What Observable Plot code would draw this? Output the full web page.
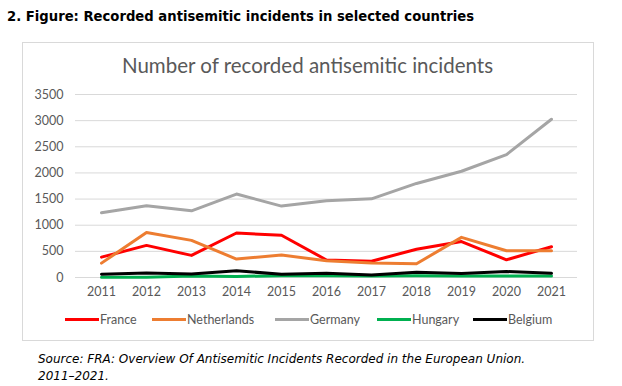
<!DOCTYPE html>
<html>
<head>
<meta charset="utf-8">
<script src="https://cdn.jsdelivr.net/npm/d3@7"></script>
<script src="https://cdn.jsdelivr.net/npm/@observablehq/plot@0.6"></script>
<style>
  body { margin: 0; background: #fff; width: 622px; height: 386px; position: relative; overflow: hidden; }
  #header { position: absolute; left: 7px; top: 9px; font-family: "DejaVu Sans", Verdana, sans-serif; font-weight: bold; font-size: 13.2px; color: #000; white-space: nowrap; }
  #box { position: absolute; left: 22px; top: 42px; width: 570px; height: 297px; border: 1px solid #d9d9d9; }
  #title { position: absolute; left: 22px; width: 571px; top: 53px; text-align: center; font-family: Lato, sans-serif; font-size: 20.5px; color: #595959; }
  #chart { position: absolute; left: 22px; top: 80px; }
  #legend { position: absolute; left: 0; top: 312px; font-family: Lato, sans-serif; font-size: 12.5px; color: #595959; }
  .item { position: absolute; white-space: nowrap; display: flex; align-items: center; }
  .sw { display: inline-block; width: 34px; height: 3px; margin-right: 1px; }
  #source { position: absolute; left: 38px; top: 351px; font-family: "DejaVu Sans", Verdana, sans-serif; font-style: italic; font-size: 12px; line-height: 17px; color: #000; white-space: nowrap; }
</style>
</head>
<body>
<div id="header">2. Figure: Recorded antisemitic incidents in selected countries</div>
<div id="box"></div>
<div id="title">Number of recorded antisemitic incidents</div>
<div id="chart"></div>
<div id="legend"></div>
<div id="source">Source: FRA: Overview Of Antisemitic Incidents Recorded in the European Union.<br>2011–2021.</div>
<script>
const years = [2011, 2012, 2013, 2014, 2015, 2016, 2017, 2018, 2019, 2020, 2021];
const france      = [389, 614, 423, 851, 808, 335, 311, 541, 687, 339, 589];
const netherlands = [275, 859, 710, 352, 429, 320, 275, 263, 768, 512, 512];
const germany     = [1239, 1374, 1275, 1596, 1366, 1468, 1504, 1799, 2032, 2351, 3027];
const hungary     = [5, 5, 30, 20, 35, 35, 30, 35, 30, 30, 30];
const belgium     = [64, 88, 66, 130, 60, 83, 50, 101, 75, 115, 80];
const yTicks = [0, 500, 1000, 1500, 2000, 2500, 3000, 3500];

const series = [
  {name: "France", values: france, color: "#ff0000"},
  {name: "Netherlands", values: netherlands, color: "#ed7d31"},
  {name: "Germany", values: germany, color: "#a5a5a5"},
  {name: "Hungary", values: hungary, color: "#00b050"},
  {name: "Belgium", values: belgium, color: "#000000"}
];

const rows = series.flatMap(s => years.map((y, i) => ({country: s.name, year: y, value: s.values[i]})));

const chart = Plot.plot({
  width: 571,
  height: 222,
  marginLeft: 53,
  marginRight: 16,
  marginTop: 14,
  marginBottom: 25,
  style: {fontFamily: "Lato, sans-serif", fontSize: "12.5px", color: "#595959", background: "transparent"},
  x: {type: "point", domain: years, padding: 0.5, label: null},
  y: {domain: [0, 3500], ticks: yTicks, label: null},
  color: {domain: series.map(s => s.name), range: series.map(s => s.color)},
  marks: [
    Plot.gridY(yTicks, {stroke: "#d9d9d9", strokeOpacity: 1, strokeWidth: 1}),
    Plot.axisY(yTicks, {tickSize: 0, tickPadding: 12, label: null, fill: "#595959", tickFormat: d => String(d)}),
    Plot.axisX(years, {tickSize: 0, tickPadding: 10, label: null, fill: "#595959", tickFormat: d => String(d)}),
    Plot.line(rows, {x: "year", y: "value", z: "country", stroke: "country", strokeWidth: 3, curve: "linear"})
  ]
});
document.getElementById("chart").appendChild(chart);

const legendX = [65, 152, 275, 377, 473];
const legend = document.getElementById("legend");
series.forEach((s, i) => {
  const it = document.createElement("div");
  it.className = "item";
  it.style.left = legendX[i] + "px";
  it.innerHTML = `<span class="sw" style="background:${s.color}"></span><span>${s.name}</span>`;
  legend.appendChild(it);
});
</script>
</body>
</html>
